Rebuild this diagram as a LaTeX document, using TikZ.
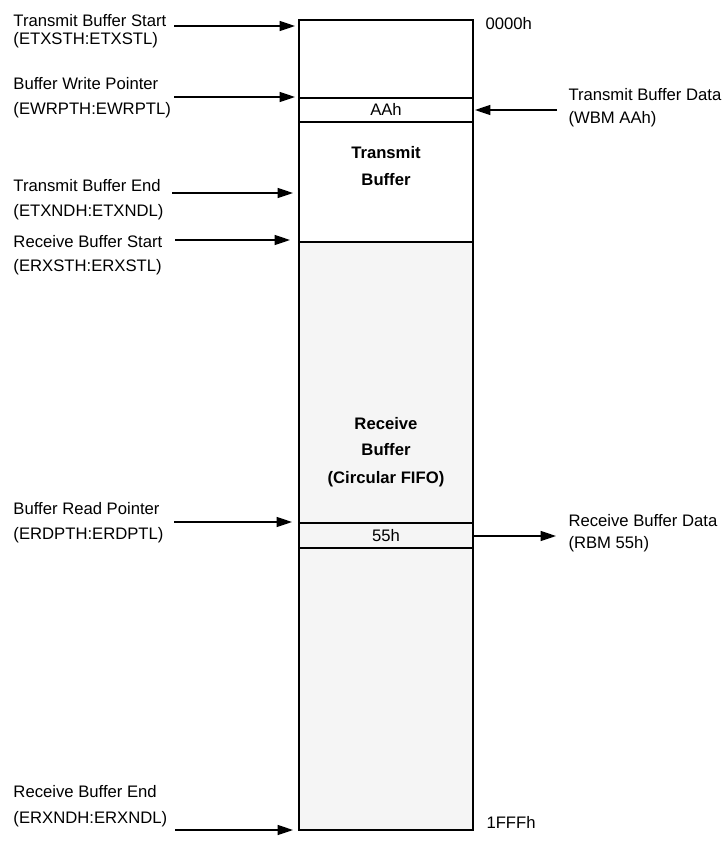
\documentclass[tikz,border=0pt]{standalone}
\usepackage{fontspec}
\setmainfont{Liberation Sans}
\usetikzlibrary{arrows.meta}

\tikzset{every picture/.style={line width=0.75pt}}
\tikzset{
  lbl/.style={anchor=base west, inner sep=0pt, font=\fontsize{12.5}{15}\selectfont},
  cell/.style={anchor=base, inner sep=0pt, font=\fontsize{12.5}{15}\selectfont},
  area/.style={anchor=base, inner sep=0pt, font=\fontsize{12.5}{15}\selectfont\bfseries},
  mem/.style={line width=1.1pt},
  rxfill/.style={fill={rgb, 255:red, 245; green, 245; blue, 245}},
  ptr/.style={line width=1pt, -{Triangle[length=11.5pt,width=7.5pt]}},
}

\begin{document}
\begin{tikzpicture}[x=0.75pt,y=0.75pt,yscale=-1,xscale=1]
\useasboundingbox (0,0) rectangle (728,850);

%Receive area
\fill [rxfill] (299,242) rectangle (473,830);
%Memory block
\draw [mem] (299,20) rectangle (473,830);
%Row lines
\draw [mem] (299,98) -- (473,98);
\draw [mem] (299,122) -- (473,122);
\draw [mem] (299,242) -- (473,242);
\draw [mem] (299,523) -- (473,523);
\draw [mem] (299,548) -- (473,548);

% Text Node
\node (aah) [cell] at (386,115) {AAh};
% Text Node
\node (h55) [cell] at (386,541) {55h};
% Text Node
\node (txA) [area] at (386,158) {Transmit};
\node (txB) [area] at (386,185) {Buffer};
% Text Node
\node (rxA) [area] at (386,429) {Receive};
\node (rxB) [area] at (386,455) {Buffer};
\node (rxC) [area] at (386,483) {(Circular FIFO)};
% Text Node
\node (adrTop) [lbl] at (485,29) {0000h};
\node (adrEnd) [lbl] at (486,828) {1FFFh};

% Text Node
\node (tbsA) [lbl] at (13,26) {Transmit Buffer Start};
\node (tbsB) [lbl] at (13,44) {(ETXSTH:ETXSTL)};
% Text Node
\node (bwpA) [lbl] at (13,89) {Buffer Write Pointer};
\node (bwpB) [lbl] at (13,114) {(EWRPTH:EWRPTL)};
% Text Node
\node (tbeA) [lbl] at (13,191) {Transmit Buffer End};
\node (tbeB) [lbl] at (13,216) {(ETXNDH:ETXNDL)};
% Text Node
\node (rbsA) [lbl] at (13,247) {Receive Buffer Start};
\node (rbsB) [lbl] at (13,271) {(ERXSTH:ERXSTL)};
% Text Node
\node (brpA) [lbl] at (13,514) {Buffer Read Pointer};
\node (brpB) [lbl] at (13,539) {(ERDPTH:ERDPTL)};
% Text Node
\node (rbeA) [lbl] at (13,797) {Receive Buffer End};
\node (rbeB) [lbl] at (13,823) {(ERXNDH:ERXNDL)};
% Text Node
\node (tbdA) [lbl] at (568,100) {Transmit Buffer Data};
\node (tbdB) [lbl] at (568,123) {(WBM AAh)};
% Text Node
\node (rbdA) [lbl] at (568,526) {Receive Buffer Data};
\node (rbdB) [lbl] at (568,548) {(RBM 55h)};

%Pointer ends
\coordinate (tbsS) at (174,26);  \coordinate (tbsE) at (295,26);
\coordinate (bwpS) at (174,97);  \coordinate (bwpE) at (295,97);
\coordinate (tbeS) at (172,193); \coordinate (tbeE) at (293,193);
\coordinate (rbsS) at (175,240); \coordinate (rbsE) at (290,240);
\coordinate (brpS) at (174,522); \coordinate (brpE) at (292,522);
\coordinate (rbeS) at (175,830); \coordinate (rbeE) at (293,830);
\coordinate (tbdS) at (557,110); \coordinate (tbdE) at (475,110);
\coordinate (rbdS) at (474,536); \coordinate (rbdE) at (556,536);

%Straight Lines
\draw [ptr] (tbsS) -- (tbsE);
\draw [ptr] (bwpS) -- (bwpE);
\draw [ptr] (tbeS) -- (tbeE);
\draw [ptr] (rbsS) -- (rbsE);
\draw [ptr] (brpS) -- (brpE);
\draw [ptr] (rbeS) -- (rbeE);
\draw [ptr] (tbdS) -- (tbdE);
\draw [ptr] (rbdS) -- (rbdE);

\end{tikzpicture}
\end{document}
